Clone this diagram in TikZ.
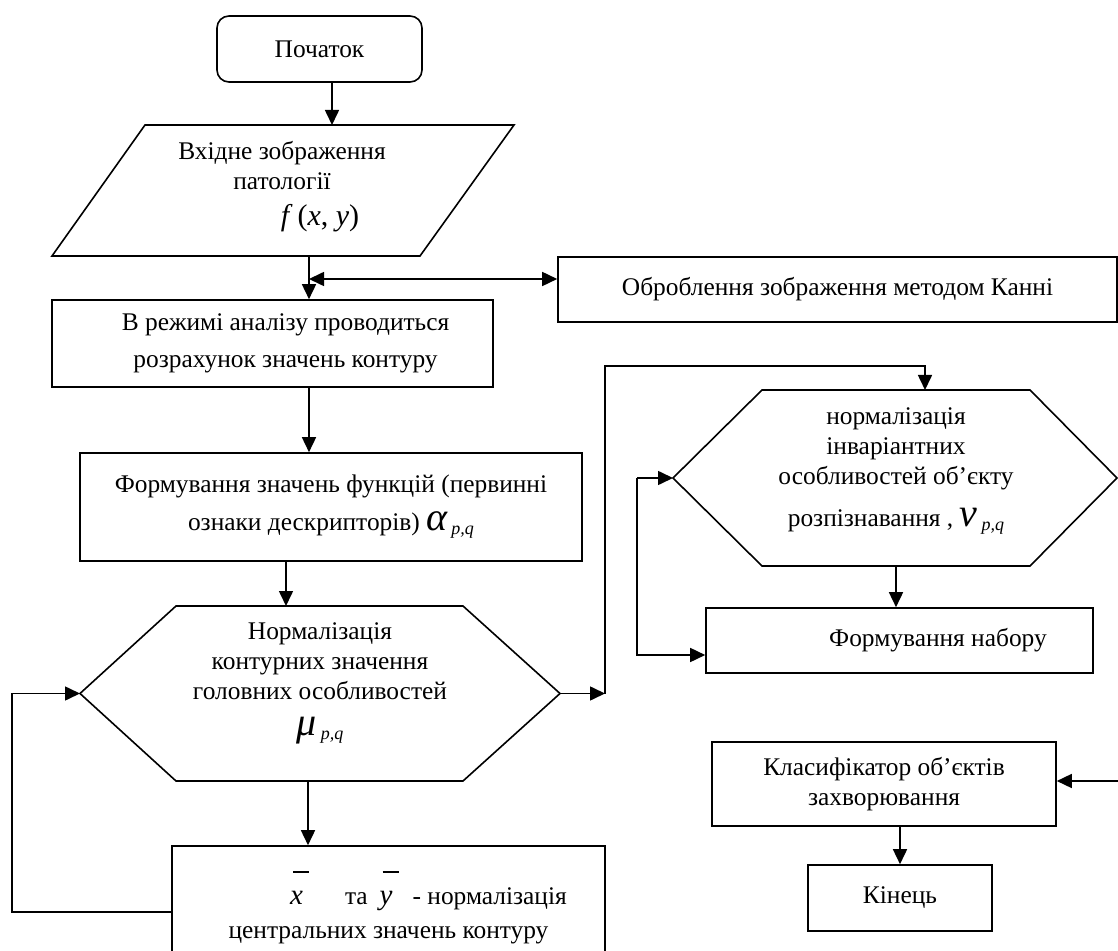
\documentclass[tikz,border=0pt]{standalone}
\usepackage{fontspec}
\setmainfont{Liberation Serif}[ItalicFont={Liberation Serif Italic}, BoldFont={Liberation Serif Bold}]
\usetikzlibrary{arrows.meta}
\newcommand{\barvar}[1]{\makebox[0pt][l]{\hspace{1.5pt}\raisebox{16pt}[0pt][0pt]{\rule{8pt}{0.7pt}}}\textit{#1}}
\newcommand{\subpq}[1]{{\fontsize{20}{20}\selectfont\itshape #1}\,\raisebox{-2pt}{\fontsize{9}{9}\selectfont\itshape p,q}}
\begin{document}
\begin{tikzpicture}[x=0.5pt, y=-0.5pt,
  font=\fontsize{12.7}{15}\selectfont,
  >={Triangle[length=7.5pt, width=7pt]},
  box/.style={rectangle, draw, line width=0.8pt, inner sep=0pt, align=center},
  txt/.style={inner sep=0pt, align=center},
  outline/.style={draw, line width=0.8pt, line join=miter},
  arr/.style={->, line width=0.8pt}
]
\useasboundingbox (0,0) rectangle (1118,951);

% left column
\node[box, rounded corners=6pt, minimum width=102.5pt, minimum height=33pt] (start) at (319.5,49) {Початок};

\draw[outline] (145,125) -- (514,125) -- (420,256) -- (52,256) -- cycle;
\node[txt] (input) at (282,187) {Вхідне зображення\\патології\\[3pt]{\fontsize{15}{15}\selectfont\hspace*{38pt}\textit{f}\,(\textit{x}, \textit{y})}};
\coordinate (input-n) at (332,125);
\coordinate (input-s) at (309,256);
\coordinate (split) at (309,279);

\node[box, minimum width=279.5pt, minimum height=32.5pt] (canny) at (837.5,289.5) {Оброблення зображення методом Канні};
\node[box, minimum width=220.5pt, minimum height=43.5pt] (analysis) at (272.5,343.5)
  {\hspace*{13pt}В режимі аналізу проводиться\\[3.5pt]\hspace*{13pt}розрахунок значень контуру};
\node[box, minimum width=251pt, minimum height=54pt] (features) at (331,507)
  {Формування значень функцій (первинні\\[4pt]ознаки дескрипторів) \subpq{α}};

\draw[outline] (80,693.5) -- (176,606) -- (463,606) -- (560,693.5) -- (463,781) -- (176,781) -- cycle;
\node[txt] (norm) at (320,683) {Нормалізація\\контурних значення\\головних особливостей\\[3pt]\subpq{μ}};
\coordinate (norm-w) at (80,693.5);
\coordinate (norm-e) at (560,693.5);
\coordinate (norm-n) at (286,606);
\coordinate (norm-s) at (308,781);

\node[box, minimum width=216.5pt, minimum height=70pt] (centre) at (388.5,916)
  {\hspace*{40pt}{\fontsize{14.5}{15}\selectfont\barvar{x}}\hspace{21pt}та\hspace{6pt}{\fontsize{14.5}{15}\selectfont\barvar{y}}\hspace{10pt}- нормалізація\\[2pt]центральних значень контуру};
\coordinate (loop-l) at (12,912);
\coordinate (bend) at (605,693.5);
\coordinate (rail) at (605,366);

% right column
\draw[outline] (673,478) -- (762,390) -- (1030,390) -- (1117,478) -- (1030,566) -- (762,566) -- cycle;
\node[txt] (invar) at (896,471) {нормалізація\\інваріантних\\особливостей об’єкту\\[6pt]розпізнавання , \subpq{ν}};
\coordinate (invar-w) at (673,478);
\coordinate (invar-n) at (925,390);
\coordinate (invar-s) at (896,566);
\coordinate (loop-r) at (637,655);

\node[box, minimum width=193.5pt, minimum height=32.5pt] (set) at (899.5,640.5) {\hspace*{38.5pt}Формування набору};
\node[box, minimum width=172pt, minimum height=42pt] (classifier) at (884,784) {Класифікатор об’єктів\\захворювання};
\node[box, minimum width=92pt, minimum height=33pt] (finish) at (900,898) {Кінець};
\coordinate (cls-in) at (1118,781);

% connectors
\draw[arr] (start.south -| input-n) -- (input-n);
\draw[arr] (input-s) -- (analysis.north -| input-s);
\draw[<->, line width=0.8pt] (split) -- (split -| canny.west);
\draw[arr] (analysis.south -| input-s) -- (features.north -| input-s);
\draw[arr] (features.south -| norm-n) -- (norm-n);
\draw[arr] (norm-s) -- (norm-s |- centre.north);
\draw[arr] (centre.west |- loop-l) -- (loop-l) |- (norm-w);
\draw[arr] (norm-e) -- (bend);
\draw[arr] (bend) -- (rail) -| (invar-n);
\draw[arr] (loop-r |- invar-w) -- (invar-w);
\draw[arr] (loop-r |- invar-w) -- (loop-r) -- (loop-r -| set.west);
\draw[arr] (invar-s) -- (invar-s |- set.north);
\draw[arr] (cls-in) -- (cls-in -| classifier.east);
\draw[arr] (finish.north |- classifier.south) -- (finish.north);
\end{tikzpicture}
\end{document}
